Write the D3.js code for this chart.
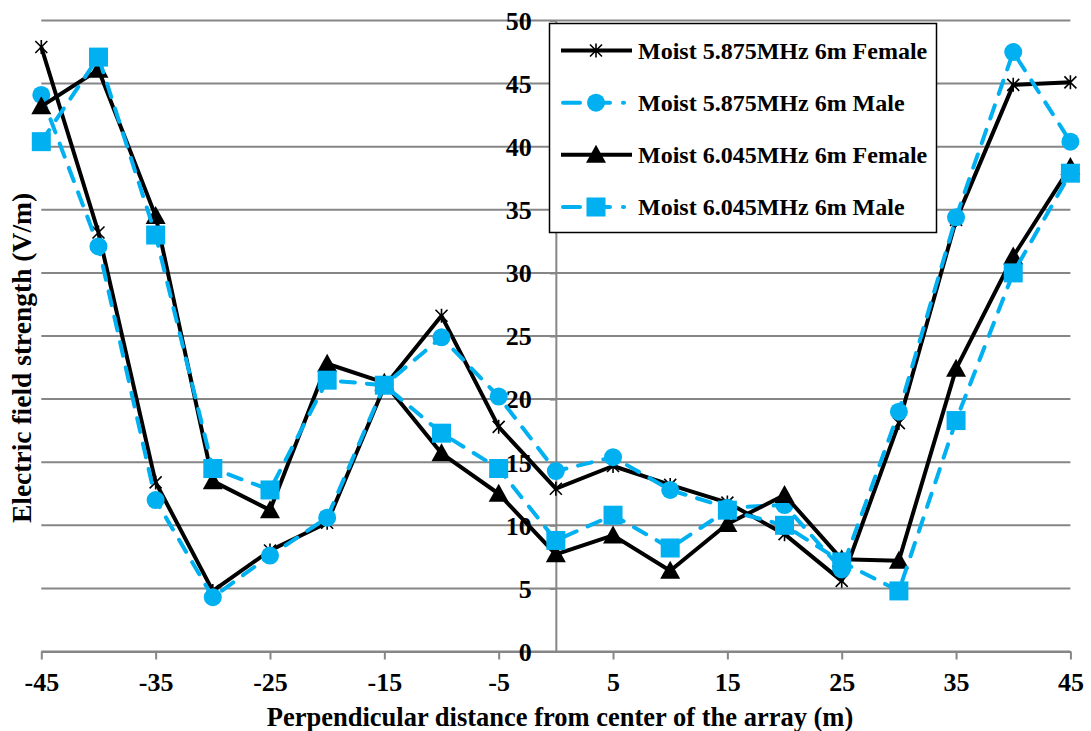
<!DOCTYPE html>
<html>
<head>
<meta charset="utf-8">
<script src="https://cdn.jsdelivr.net/npm/d3@7"></script>
<style>
  body { margin: 0; background: #fff; }
  text { font-family: "Liberation Serif", "Times New Roman", serif; font-weight: bold; fill: #000; }
</style>
</head>
<body>
<svg width="1091" height="731"></svg>
<script>
// distances along the array (m)
const distances = [-45, -40, -35, -30, -25, -20, -15, -10, -5, 0, 5, 10, 15, 20, 25, 30, 35, 40, 45]
const xTicks = [-45, -35, -25, -15, -5, 5, 15, 25, 35, 45]
const yTicks = [0, 5, 10, 15, 20, 25, 30, 35, 40, 45, 50]

const seriesNames = ["Moist 5.875MHz 6m Female", "Moist 5.875MHz 6m Male", "Moist 6.045MHz 6m Female", "Moist 6.045MHz 6m Male"]
const female5875 = [47.9, 33.2, 13.4, 4.8, 8.0, 10.2, 21.0, 26.6, 17.8, 12.9, 14.7, 13.2, 11.8, 9.3, 5.6, 18.1, 34.2, 44.9, 45.1]
const male5875 = [44.1, 32.1, 12.0, 4.3, 7.6, 10.6, 21.1, 24.9, 20.2, 14.3, 15.4, 12.8, 11.4, 11.6, 6.5, 19.0, 34.4, 47.5, 40.4]
const female6045 = [43.2, 46.1, 34.5, 13.5, 11.2, 22.8, 21.3, 15.7, 12.5, 7.7, 9.2, 6.4, 10.1, 12.4, 7.3, 7.2, 22.4, 31.3, 38.4]
const male6045 = [40.4, 47.1, 33.0, 14.5, 12.8, 21.5, 21.1, 17.3, 14.5, 8.8, 10.8, 8.2, 11.2, 10.0, 7.1, 4.8, 18.3, 30.0, 37.9]

const black = "#000000", blue = "#00B0F0", gridGray = "#868686"

const series = [
  { name: seriesNames[0], values: female5875, color: black, dash: null, marker: "star" },
  { name: seriesNames[1], values: male5875, color: blue, dash: "14,12", marker: "circle" },
  { name: seriesNames[2], values: female6045, color: black, dash: null, marker: "triangle" },
  { name: seriesNames[3], values: male6045, color: blue, dash: "14,12", marker: "square" }
]

const svg = d3.select("svg")

const x = d3.scaleLinear().domain([-45, 45]).range([41.3, 1070.4])
const y = d3.scaleLinear().domain([0, 50]).range([651.5, 20.5])

// horizontal gridlines
svg.append("g")
  .selectAll("line")
  .data(yTicks)
  .enter()
  .append("line")
  .attr("x1", x(-45)).attr("x2", x(45))
  .attr("y1", d => y(d)).attr("y2", d => y(d))
  .attr("stroke", gridGray).attr("stroke-width", 2)

// x axis with ticks pointing down
const xAxis = svg.append("g")
  .attr("transform", "translate(0," + y(0) + ")")
  .call(d3.axisBottom(x).tickValues(xTicks).tickSize(8).tickPadding(13)
    .tickSizeOuter(0).tickFormat(d => String(d)))
xAxis.select(".domain").attr("stroke", gridGray).attr("stroke-width", 2)
xAxis.selectAll(".tick line").attr("stroke", gridGray).attr("stroke-width", 2)
xAxis.selectAll(".tick text")
  .attr("font-family", null).attr("font-size", 26).attr("dy", "0.72em")

// y axis crossing at x = 0
const yAxis = svg.append("g")
  .attr("transform", "translate(" + x(0) + ",0)")
  .call(d3.axisLeft(y).tickValues(yTicks).tickSize(6).tickPadding(18).tickSizeOuter(0))
yAxis.select(".domain").attr("stroke", gridGray).attr("stroke-width", 2)
yAxis.selectAll(".tick line").attr("stroke", gridGray).attr("stroke-width", 2)
yAxis.selectAll(".tick text")
  .attr("font-family", null).attr("font-size", 26).attr("dy", "0.34em")

// axis titles
svg.append("text")
  .attr("x", 560).attr("y", 726)
  .attr("text-anchor", "middle").attr("font-size", 26.5)
  .text("Perpendicular distance from center of the array (m)")

svg.append("text")
  .attr("transform", "translate(31,358) rotate(-90)")
  .attr("text-anchor", "middle").attr("font-size", 27.5)
  .text("Electric field strength (V/m)")

function drawMarker(g, type, color) {
  if (type === "circle") {
    g.append("circle").attr("r", 9).attr("fill", color)
  } else if (type === "square") {
    g.append("rect").attr("x", -9.5).attr("y", -9.5).attr("width", 19).attr("height", 19).attr("fill", color)
  } else if (type === "triangle") {
    g.append("path").attr("d", "M0,-10L10,8L-10,8Z").attr("fill", color)
  } else {
    g.append("path")
      .attr("d", "M-6,-6L6,6M-6,6L6,-6M0,-7L0,7")
      .attr("stroke", color).attr("stroke-width", 1.6).attr("fill", "none")
  }
}

const line = d3.line()
  .x((d, i) => x(distances[i]))
  .y(d => y(d))

series.forEach(s => {
  const sg = svg.append("g").attr("class", "series")
  sg.append("path")
    .datum(s.values)
    .attr("d", line)
    .attr("fill", "none")
    .attr("stroke", s.color)
    .attr("stroke-width", 4)
    .attr("stroke-dasharray", s.dash)
    .attr("stroke-linecap", s.dash ? "round" : "butt")
    .attr("stroke-linejoin", "round")

  sg.selectAll("g.pt")
    .data(s.values)
    .enter()
    .append("g")
    .attr("class", "pt")
    .attr("transform", (d, i) => "translate(" + x(distances[i]) + "," + y(d) + ")")
    .each(function() { drawMarker(d3.select(this), s.marker, s.color) })
})

// legend
const legend = svg.append("g")
legend.append("rect")
  .attr("x", 549.5).attr("y", 23.5).attr("width", 387).attr("height", 209)
  .attr("fill", "#fff").attr("stroke", "#000").attr("stroke-width", 1.5)

const legendY = d3.scalePoint().domain(seriesNames).range([50.5, 207])

const item = legend.selectAll("g.item")
  .data(series)
  .enter()
  .append("g")
  .attr("class", "item")
  .attr("transform", d => "translate(0," + legendY(d.name) + ")")

item.append("line")
  .attr("x1", d => d.dash ? 563 : 561).attr("x2", d => d.dash ? 624 : 632)
  .attr("stroke", d => d.color).attr("stroke-width", 4)
  .attr("stroke-linecap", d => d.dash ? "round" : "butt")
  .attr("stroke-dasharray", d => d.dash ? "17,13" : null)

item.append("g")
  .attr("transform", "translate(596,0)")
  .each(function(d) { drawMarker(d3.select(this), d.marker, d.color) })

item.append("text")
  .attr("x", 638).attr("dy", "0.34em")
  .attr("font-size", 24)
  .text(d => d.name)
</script>
</body>
</html>
